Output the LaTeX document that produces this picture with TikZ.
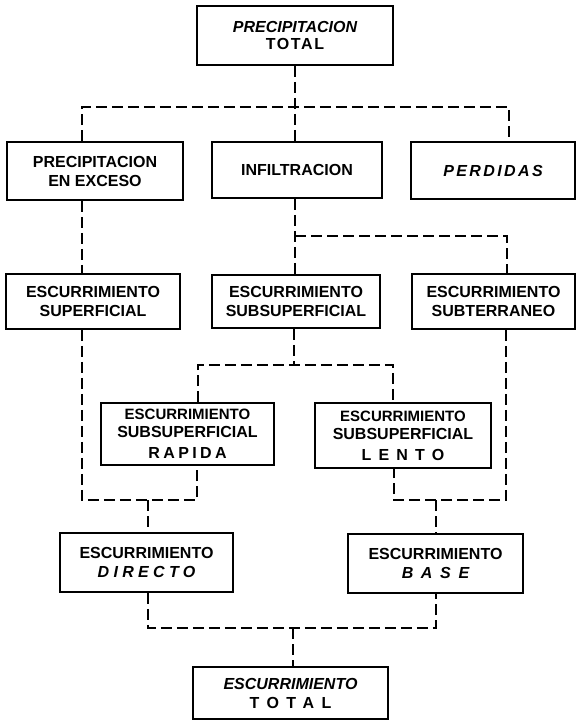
\documentclass[tikz,border=0pt]{standalone}
\usepackage{fontspec}
\setmainfont{Liberation Sans}
\newcommand{\lspaced}[2]{{\addfontfeature{LetterSpace=#1}#2}}
\tikzset{
  box/.style={draw, line width=1.7pt, inner sep=0pt, align=center,
    font=\fontsize{16}{19}\selectfont\bfseries},
  conn/.style={line width=1.6pt, dash pattern=on 11pt off 5pt}
}
\begin{document}
\begin{tikzpicture}[x=1pt,y=-1pt]
\useasboundingbox[fill=white] (0,0) rectangle (580,721);
% boxes
\node[box, minimum width=196pt, minimum height=59pt] (ptotal) at (295,35.5)
  {\itshape PRECIPITACION\\[-2pt]\lspaced{10}{TOTAL}};
\node[box, minimum width=176pt, minimum height=58pt] (pexc) at (95,171)
  {PRECIPITACION\\EN EXCESO};
\node[box, minimum width=170pt, minimum height=56pt] (infil) at (297,170)
  {INFILTRACION};
\node[box, minimum width=164pt, minimum height=57pt] (perd) at (493,170.5)
  {\itshape\lspaced{15}{PERDIDAS}};
\node[box, minimum width=174pt, minimum height=55pt] (esup) at (93,301.5)
  {ESCURRIMIENTO\\SUPERFICIAL};
\node[box, minimum width=168pt, minimum height=53pt] (esub) at (296,301.5)
  {ESCURRIMIENTO\\SUBSUPERFICIAL};
\node[box, minimum width=163pt, minimum height=55pt] (eter) at (493.5,301.5)
  {ESCURRIMIENTO\\SUBTERRANEO};
\node[box, minimum width=173pt, minimum height=62pt] (rap) at (187.5,434)
  {\fontsize{15}{17}\selectfont ESCURRIMIENTO\\[-1pt]SUBSUPERFICIAL\\[2pt]\lspaced{21}{RAPIDA}};
\node[box, minimum width=176pt, minimum height=65pt] (len) at (403,435.5)
  {\fontsize{15}{17}\selectfont ESCURRIMIENTO\\[-1pt]SUBSUPERFICIAL\\[2pt]\lspaced{45}{LENTO}};
\node[box, minimum width=173pt, minimum height=59pt] (dir) at (146.5,562.5)
  {ESCURRIMIENTO\\\itshape\lspaced{27}{DIRECTO}};
\node[box, minimum width=175pt, minimum height=59pt] (base) at (435.5,563.5)
  {ESCURRIMIENTO\\\itshape\lspaced{48}{BASE}};
\node[box, minimum width=195pt, minimum height=52pt] (etot) at (290.5,693)
  {\itshape ESCURRIMIENTO\\\lspaced{47}{TOTAL}};
% junction points
\coordinate (cL) at (82,107);
\coordinate (cR) at (509,107);
\coordinate (cI) at (295,236);
\coordinate (cT) at (507,236);
\coordinate (s1) at (294,365);
\coordinate (sL) at (198,365);
\coordinate (sR) at (393,365);
\coordinate (bL) at (82,500);
\coordinate (bL2) at (197,500);
\coordinate (bLm) at (148,500);
\coordinate (bR) at (506,500);
\coordinate (bR2) at (394,500);
\coordinate (bRm) at (436,500);
\coordinate (t1) at (148,628);
\coordinate (t2) at (436,628);
\coordinate (tm) at (293,628);
% connectors
\draw[conn] (ptotal.south) -- (ptotal.south |- infil.north);
\draw[conn] (pexc.north -| cL) -- (cL) -- (cR) -- (perd.north -| cR);
\draw[conn] (pexc.south -| cL) -- (esup.north -| cL);
\draw[conn] (infil.south -| cI) -- (esub.north -| cI);
\draw[conn] (cI) -- (cT) -- (eter.north -| cT);
\draw[conn] (esub.south -| s1) -- (s1);
\draw[conn] (rap.north -| sL) -- (sL) -- (sR) -- (len.north -| sR);
\draw[conn] (esup.south -| bL) -- (bL) -- (bL2) -- (rap.south -| bL2);
\draw[conn] (bLm) -- (dir.north -| bLm);
\draw[conn] (eter.south -| bR) -- (bR) -- (bR2) -- (len.south -| bR2);
\draw[conn] (bRm) -- (base.north -| bRm);
\draw[conn] (dir.south -| t1) -- (t1) -- (t2) -- (base.south -| t2);
\draw[conn] (tm) -- (etot.north -| tm);
\end{tikzpicture}
\end{document}
